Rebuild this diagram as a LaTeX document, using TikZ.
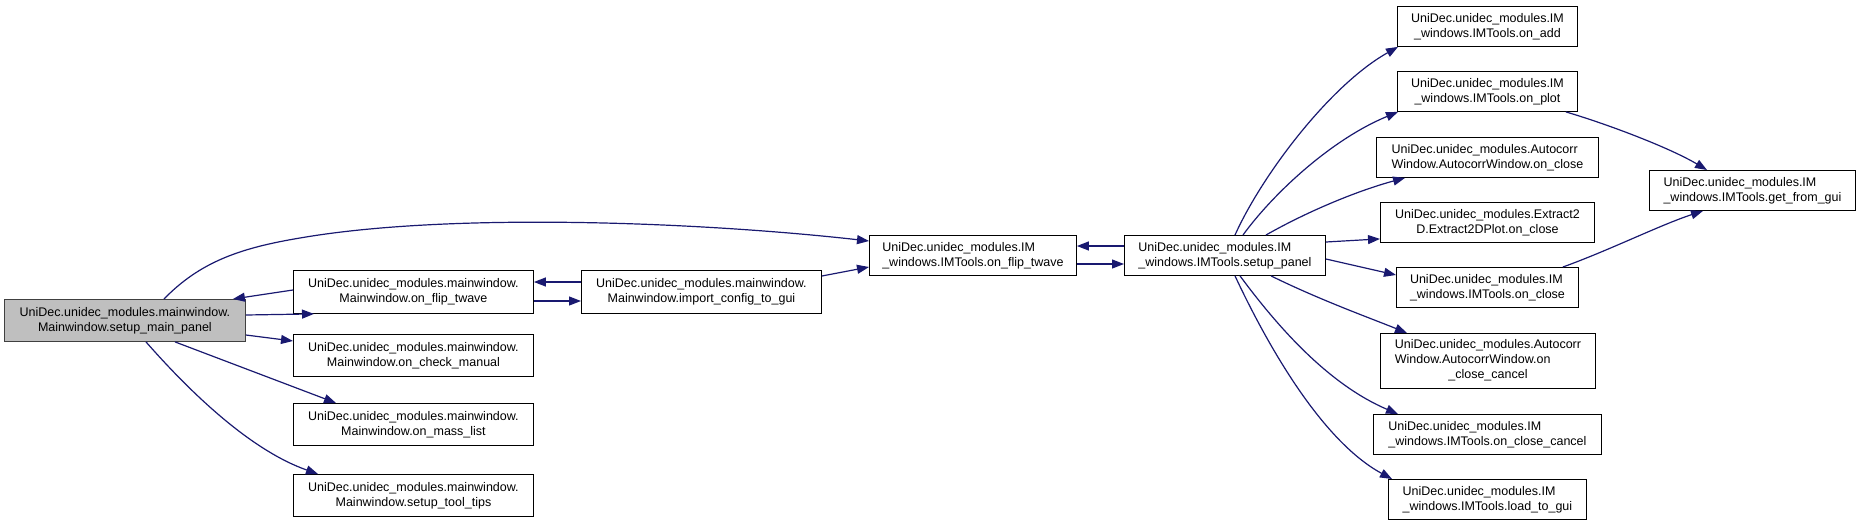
\documentclass[tikz,border=0pt]{standalone}
\usepackage{fontspec}
\setmainfont{Liberation Sans}
\usetikzlibrary{arrows.meta,calc}
\definecolor{navy}{HTML}{191970}
\definecolor{graybox}{HTML}{BFBFBF}
\definecolor{grayedge}{HTML}{404040}
\tikzset{
  box/.style={draw=black, line width=0.9pt, fill=white, inner sep=0pt, anchor=north west,
    font=\fontsize{12.5}{15}\selectfont, minimum height=40pt},
  edge/.style={draw=navy, line width=1.2pt, -{Triangle[length=12pt,width=9pt]}},
}
\begin{document}
\begin{tikzpicture}[x=1pt,y=-1pt]
\useasboundingbox (0,0) rectangle (1860,525);
% nodes
\node[box, fill=graybox, draw=grayedge, minimum width=241pt, minimum height=42pt, align=center] (mp) at (4,299)
  {UniDec.unidec\_modules.mainwindow.\\Mainwindow.setup\_main\_panel};
\node[box, minimum width=240pt, minimum height=43pt, align=center] (flip) at (293,270)
  {UniDec.unidec\_modules.mainwindow.\\Mainwindow.on\_flip\_twave};
\node[box, minimum width=240pt, minimum height=42pt, align=center] (check) at (293,334)
  {UniDec.unidec\_modules.mainwindow.\\Mainwindow.on\_check\_manual};
\node[box, minimum width=240pt, minimum height=42pt, align=center] (mass) at (293,403)
  {UniDec.unidec\_modules.mainwindow.\\Mainwindow.on\_mass\_list};
\node[box, minimum width=240pt, minimum height=42pt, align=center] (tips) at (293,474)
  {UniDec.unidec\_modules.mainwindow.\\Mainwindow.setup\_tool\_tips};
\node[box, minimum width=240pt, minimum height=43pt, align=center] (import) at (581,270)
  {UniDec.unidec\_modules.mainwindow.\\Mainwindow.import\_config\_to\_gui};
\node[box, minimum width=207pt, align=left] (imflip) at (869,235)
  {UniDec.unidec\_modules.IM\\\_windows.IMTools.on\_flip\_twave};
\node[box, minimum width=201pt, align=left] (setup) at (1124,235)
  {UniDec.unidec\_modules.IM\\\_windows.IMTools.setup\_panel};
\node[box, minimum width=180pt, align=center] (onadd) at (1397,6)
  {UniDec.unidec\_modules.IM\\\_windows.IMTools.on\_add};
\node[box, minimum width=180pt, align=center] (onplot) at (1397,71)
  {UniDec.unidec\_modules.IM\\\_windows.IMTools.on\_plot};
\node[box, minimum width=222pt, align=left] (acclose) at (1376,137)
  {UniDec.unidec\_modules.Autocorr\\Window.AutocorrWindow.on\_close};
\node[box, minimum width=214pt, align=center] (extract) at (1380,202)
  {UniDec.unidec\_modules.Extract2\\D.Extract2DPlot.on\_close};
\node[box, minimum width=206pt, align=left] (getgui) at (1649,170)
  {UniDec.unidec\_modules.IM\\\_windows.IMTools.get\_from\_gui};
\node[box, minimum width=182pt, align=left] (onclose) at (1396,267)
  {UniDec.unidec\_modules.IM\\\_windows.IMTools.on\_close};
\node[box, minimum width=215pt, minimum height=55pt] (acc) at (1380,333)
  {\begin{tabular}{@{}l@{}}UniDec.unidec\_modules.Autocorr\\Window.AutocorrWindow.on\\\multicolumn{1}{@{}c@{}}{\_close\_cancel}\end{tabular}};
\node[box, minimum width=228pt, align=left] (occ) at (1373,414)
  {UniDec.unidec\_modules.IM\\\_windows.IMTools.on\_close\_cancel};
\node[box, minimum width=198pt, align=left] (ltg) at (1388,479)
  {UniDec.unidec\_modules.IM\\\_windows.IMTools.load\_to\_gui};
% edges
\draw[edge] ($(mp.north west)+(160,0)$) .. controls (200,262) and (240,248) .. (300,238)
  .. controls (450,212) and (700,222) .. ($(imflip.north west)+(0,6)$);
\draw[edge] ($(flip.north west)+(0,20)$) -- ($(mp.north east)+(-13,0)$);
\draw[edge] ($(mp.north east)+(0,16)$) -- ($(flip.south west)+(21,0)$);
\draw[edge] ($(mp.north east)+(0,36)$) -- ($(check.north west)+(0,7)$);
\draw[edge] ($(mp.south west)+(171,0)$) -- ($(mass.north west)+(43,0)$);
\draw[edge] ($(mp.south west)+(142,0)$) .. controls (190,392) and (250,450) .. ($(tips.north west)+(25,0)$);
\draw[edge] ($(import.north west)+(0,12)$) -- ($(flip.north east)+(0,12)$);
\draw[edge] ($(flip.north east)+(0,31)$) -- ($(import.north west)+(0,31)$);
\draw[edge] ($(import.north east)+(0,6)$) -- ($(imflip.north west)+(0,32)$);
\draw[edge] ($(setup.north west)+(0,11)$) -- ($(imflip.north east)+(0,11)$);
\draw[edge] ($(imflip.north east)+(0,29)$) -- ($(setup.north west)+(0,29)$);
\draw[edge] ($(setup.north west)+(111,0)$) .. controls (1262,175) and (1330,85) .. ($(onadd.south west)+(1,0)$);
\draw[edge] ($(setup.north west)+(119,0)$) .. controls (1272,195) and (1330,140) .. ($(onplot.south west)+(1,0)$);
\draw[edge] ($(setup.north west)+(142,0)$) .. controls (1310,210) and (1360,190) .. ($(acclose.south west)+(29,0)$);
\draw[edge] ($(setup.north east)+(0,7)$) -- ($(extract.south west)+(0,-4)$);
\draw[edge] ($(setup.north east)+(0,24)$) -- ($(onclose.north west)+(0,8)$);
\draw[edge] ($(setup.south west)+(147,0)$) .. controls (1320,300) and (1370,318) .. ($(acc.north west)+(27,0)$);
\draw[edge] ($(setup.south west)+(116,0)$) .. controls (1280,330) and (1330,385) .. ($(occ.north west)+(25,0)$);
\draw[edge] ($(setup.south west)+(111,0)$) .. controls (1265,340) and (1320,440) .. ($(ltg.north west)+(4,0)$);
\draw[edge] ($(onplot.south east)+(-12,0)$) .. controls (1610,125) and (1670,148) .. ($(getgui.north west)+(58,0)$);
\draw[edge] ($(onclose.north east)+(-16,0)$) .. controls (1610,250) and (1660,225) .. ($(getgui.south west)+(54,0)$);
\end{tikzpicture}
\end{document}
